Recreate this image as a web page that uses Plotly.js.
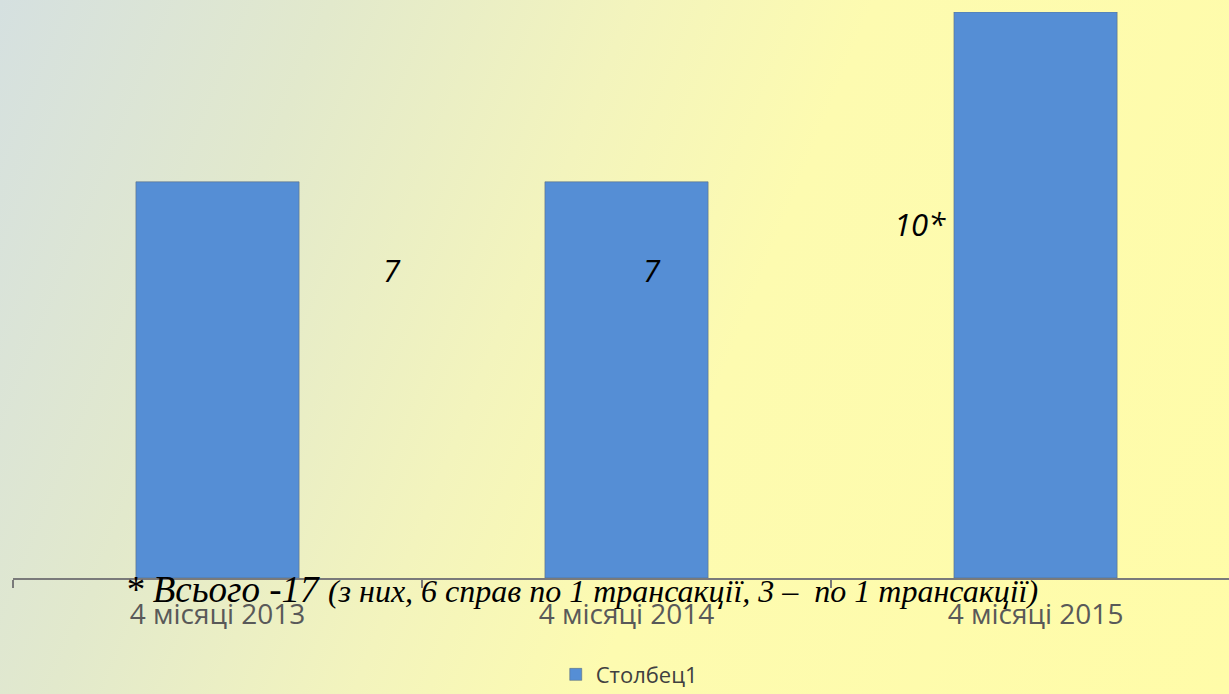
<!DOCTYPE html>
<html>
<head>
<meta charset="utf-8">
<script src="https://cdn.plot.ly/plotly-3.0.1.min.js"></script>
<style>
html,body{margin:0;padding:0;}
#chart{width:1229px;height:694px;
background:linear-gradient(112deg,#d5e0e0 0%,#e2e9cc 22%,#f3f4bd 42%,#fdfbb0 58%,#fffca8 100%);}
</style>
</head>
<body>
<div id="chart"></div>
<script>
const categories = ["4 місяці 2013", "4 місяці 2014", "4 місяці 2015"];
const values = [7, 7, 10];
const seriesName = "Столбец1";
const labelTexts = ["7", "7", "10*"];
const footnoteMain = "* Всього -17 ";
const footnoteRest = "(з них, 6 справ по 1 трансакції, 3 –  по 1 трансакції)";

const trace = {
  type: "bar",
  x: categories,
  y: values,
  name: seriesName,
  marker: {color: "#558ed5", line: {color: "rgba(90,105,120,0.55)", width: 1}},
  showlegend: true,
  hoverinfo: "x+y"
};

// label offsets relative to category index (layout placement)
const labelPos = [[0.427, 5.44], [1.062, 5.44], [1.718, 6.25]];

const annotations = labelTexts.map((t, i) => ({
  x: labelPos[i][0], y: labelPos[i][1], xref: "x", yref: "y",
  text: "<i>" + t + "</i>", showarrow: false,
  font: {family: "Open Sans, sans-serif", size: 31, color: "#000"}
}));
annotations.push({
  x: 0.0905, y: -0.02, xref: "paper", yref: "paper", xanchor: "left", yanchor: "middle",
  showarrow: false,
  text: "<i><span style='font-size:37px'>" + footnoteMain + "</span>" + footnoteRest + "</i>",
  font: {family: "Liberation Serif, Times New Roman, serif", size: 32, color: "#000"}
});

const layout = {
  width: 1229, height: 694,
  margin: {l: 13, r: 0, t: 12, b: 116, pad: 0},
  paper_bgcolor: "rgba(0,0,0,0)",
  plot_bgcolor: "rgba(0,0,0,0)",
  bargap: 0.601,
  xaxis: {
    type: "category", range: [-0.5, 2.473],
    showline: true, linecolor: "#7a7a7a", linewidth: 2,
    ticks: "outside", tickson: "boundaries", ticklen: 8, tickcolor: "#7a7a7a", tickwidth: 2,
    tickfont: {family: "Open Sans, sans-serif", size: 28, color: "#595959"},
    ticklabelstandoff: 10,
    showgrid: false, zeroline: false, fixedrange: true
  },
  yaxis: {
    range: [0, 10], visible: false, showgrid: false, zeroline: false, fixedrange: true
  },
  showlegend: true,
  legend: {
    orientation: "h", xref: "container", yref: "container",
    x: 0.512, y: 0.028, xanchor: "center", yanchor: "middle",
    font: {family: "Open Sans, sans-serif", size: 22, color: "#404040"},
    bgcolor: "rgba(0,0,0,0)", itemwidth: 30
  },
  annotations: annotations
};

Plotly.newPlot("chart", [trace], layout, {displayModeBar: false, staticPlot: true});
</script>
</body>
</html>
